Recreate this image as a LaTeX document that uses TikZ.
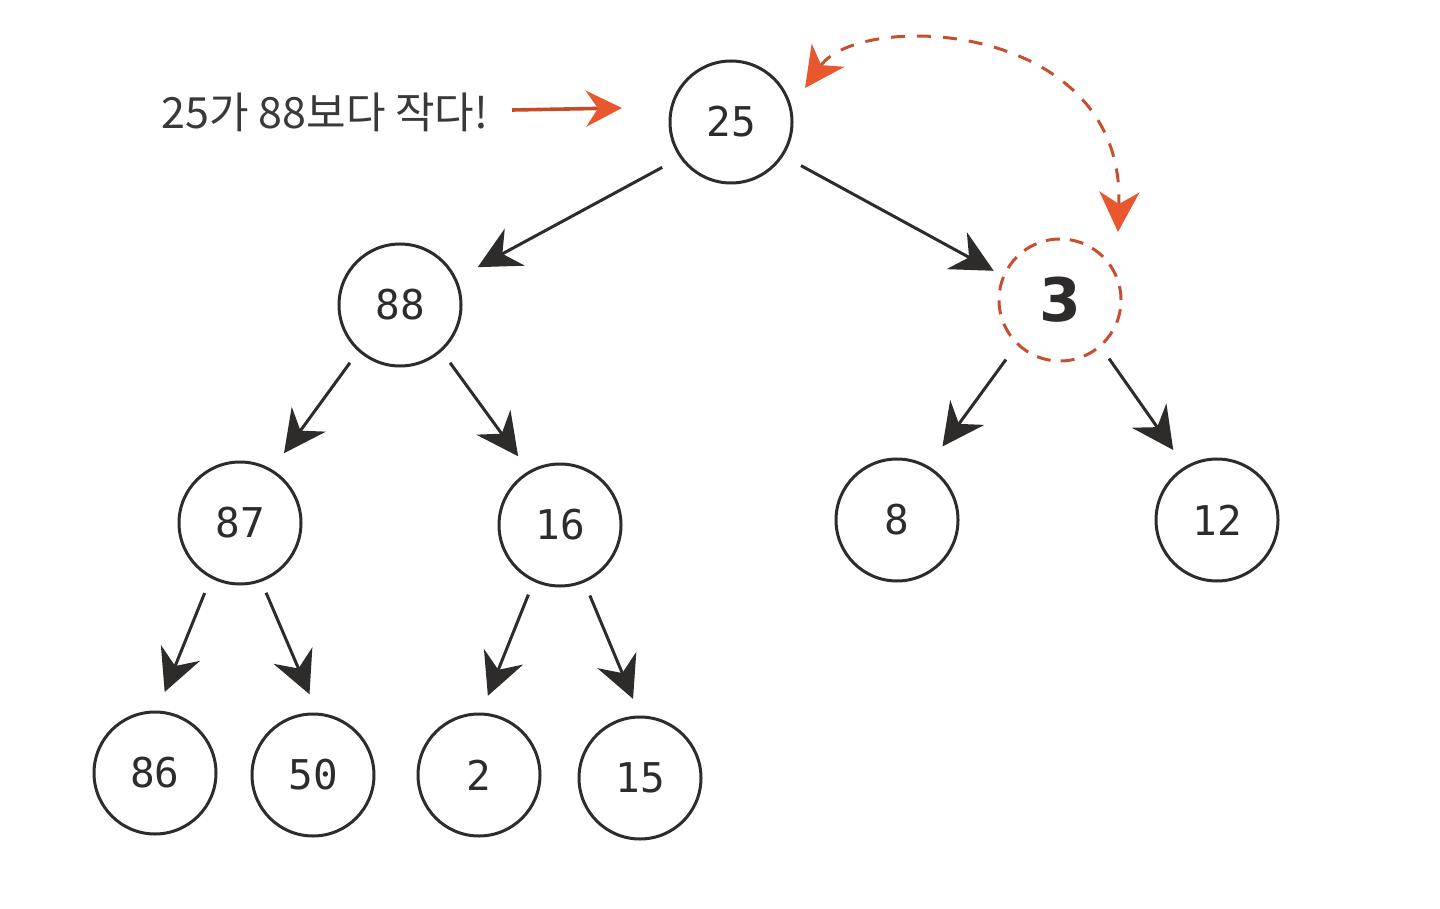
\documentclass[tikz,border=0pt]{standalone}
\usepackage{fontspec}
\setmainfont{DejaVu Sans}
\newfontfamily\monofnt{DejaVu Sans Mono}
\newfontfamily\korfnt{Noto Sans CJK KR}
\usetikzlibrary{arrows.meta}
\definecolor{ink}{HTML}{2E2B2B}
\definecolor{txt}{HTML}{3A3838}
\definecolor{orng}{HTML}{E8572E}
\definecolor{dorng}{HTML}{C4502F}
\begin{document}
\begin{tikzpicture}[x=0.5pt,y=-0.5pt,
  hnode/.style={circle,draw=ink,line width=1.5pt,minimum size=61pt,inner sep=0pt,font=\monofnt\fontsize{20.5}{20.5}\selectfont,text=ink},
  edge/.style={draw=ink,line width=1.5pt,-{Stealth[length=21pt,width=21pt,inset=7pt]}}]
\useasboundingbox (0,0) rectangle (1440,909);
\node[hnode] (n25) at (731,122) {25};
\node[hnode] (n88) at (400,305) {88};
\node[hnode,draw=dorng,dash pattern=on 7pt off 5pt,font=\bfseries\fontsize{30}{30}\selectfont] (n3) at (1060,300) {3};
\node[hnode] (n87) at (240,523) {87};
\node[hnode] (n16) at (560,525) {16};
\node[hnode] (n8) at (897,520) {8};
\node[hnode] (n12) at (1217,520) {12};
\node[hnode] (n86) at (155,773) {86};
\node[hnode] (n50) at (313,775) {50};
\node[hnode] (n2) at (479,775) {2};
\node[hnode] (n15) at (640,778) {15};
\draw[edge,shorten <=10pt,shorten >=12pt] (n25.215) -- (n88.25);
\draw[edge,shorten <=10pt,shorten >=5pt] (n25.-33) -- (n3.157);
\draw[edge,shorten <=7pt,shorten >=10pt] (n88.228) -- (n87.59);
\draw[edge,shorten <=7pt,shorten >=9pt] (n88.-48) -- (n16.120);
\draw[edge,shorten <=9pt,shorten >=12pt] (n3.226) -- (n8.60);
\draw[edge,shorten <=7pt,shorten >=10pt] (n3.-49) -- (n12.121);
\draw[edge,shorten <=8pt,shorten >=10pt] (n87.242) -- (n86.88);
\draw[edge,shorten <=6pt,shorten >=10pt] (n87.-70) -- (n50.86);
\draw[edge,shorten <=7pt,shorten >=9pt] (n16.245) -- (n2.88);
\draw[edge,shorten <=7pt,shorten >=9pt] (n16.-67) -- (n15.90);
\node[font=\korfnt\fontsize{21.5}{21.5}\selectfont,text=txt,anchor=center] (lbl) at (325,112) {25가 88보다 작다!};
\coordinate (ls) at (512,110);
\coordinate (lblarrow) at (622,108);
\draw[draw=orng!85!black,line width=1.8pt,-{Stealth[length=18pt,width=18pt,inset=6pt,color=orng,fill=orng]}] (ls) -- (lblarrow);
\coordinate (sw1) at (805,88);
\coordinate (sw2) at (1118,232);
\draw[draw=dorng,line width=1.5pt,dash pattern=on 7pt off 6pt,{Stealth[length=20pt,width=20pt,inset=6pt,color=orng,fill=orng]}-{Stealth[length=20pt,width=20pt,inset=6pt,color=orng,fill=orng]}] (sw1) .. controls (860,10) and (1125,20) .. (sw2);
\end{tikzpicture}
\end{document}
